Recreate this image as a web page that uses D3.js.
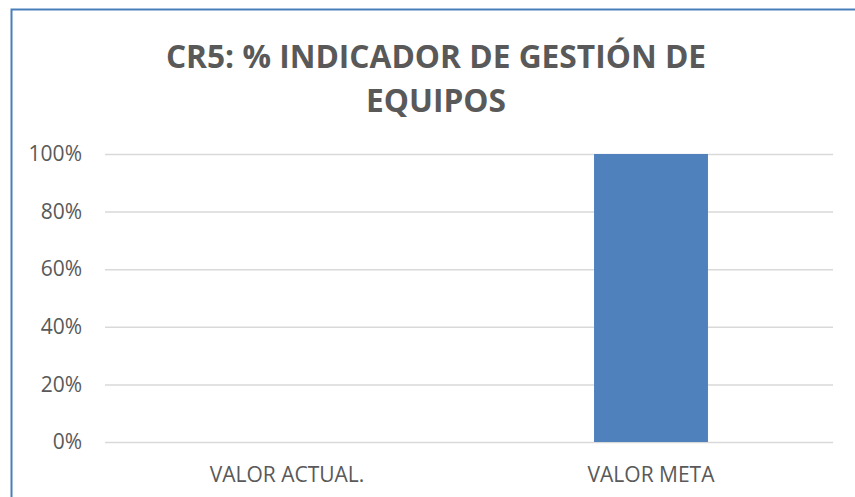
<!DOCTYPE html>
<html>
<head>
<meta charset="utf-8">
<script src="https://cdn.jsdelivr.net/npm/d3@7"></script>
<style>
  html, body { margin: 0; padding: 0; background: #fff; }
  svg { display: block; }
</style>
</head>
<body>
<svg id="chart" width="855" height="497"></svg>
<script>
// Chart data
const categories = ["VALOR ACTUAL.", "VALOR META"];
const values = [0, 1];
const yTicks = [0, 0.2, 0.4, 0.6, 0.8, 1];
const titleLines = ["CR5: % INDICADOR DE GESTIÓN DE", "EQUIPOS"];

const width = 855, height = 497;
const svg = d3.select("#chart");
const font = "'Open Sans', 'Noto Sans', sans-serif";
const textColor = "#595959";

// Chart area frame (extends past the right and bottom edges)
svg.append("rect")
  .attr("x", 11.5).attr("y", 9.5)
  .attr("width", 900).attr("height", 600)
  .attr("fill", "#fff")
  .attr("stroke", "#4a7ebb")
  .attr("stroke-width", 2);

const plot = { left: 105, right: 833, top: 154, bottom: 442 };

const x = d3.scaleBand()
  .domain(categories)
  .range([plot.left, plot.right])
  .paddingInner(0.687)
  .paddingOuter(0.3435);

const y = d3.scaleLinear()
  .domain([0, 1])
  .range([plot.bottom, plot.top]);

// Gridlines and y labels
const yAxis = d3.axisLeft(y)
  .tickValues(yTicks)
  .tickFormat(d3.format(".0%"))
  .tickSize(-(plot.right - plot.left))
  .tickPadding(23);

const gy = svg.append("g")
  .attr("transform", `translate(${plot.left},0)`)
  .call(yAxis);
gy.select(".domain").remove();
gy.selectAll(".tick line")
  .attr("stroke", "#d9d9d9")
  .attr("stroke-width", 1.5);
gy.selectAll(".tick text")
  .attr("fill", textColor)
  .style("font-family", font)
  .style("font-size", "21px");

// Bars
svg.append("g").selectAll("rect")
  .data(categories.map((c, i) => ({ c, v: values[i] })))
  .join("rect")
  .attr("x", d => x(d.c))
  .attr("width", x.bandwidth())
  .attr("y", d => y(d.v))
  .attr("height", d => y(0) - y(d.v))
  .attr("fill", "#4f81bd");

// Category axis labels
const xAxis = d3.axisBottom(x).tickSize(0).tickPadding(25);
const gx = svg.append("g")
  .attr("transform", `translate(0,${plot.bottom})`)
  .call(xAxis);
gx.select(".domain").remove();
gx.selectAll(".tick text")
  .attr("fill", textColor)
  .style("font-family", font)
  .style("font-size", "21px");

// Title
svg.append("text")
  .attr("x", 436)
  .attr("text-anchor", "middle")
  .attr("fill", textColor)
  .style("font-family", font)
  .style("font-weight", "bold")
  .style("font-size", "31.7px")
  .selectAll("tspan")
  .data(titleLines)
  .join("tspan")
  .attr("x", 436)
  .attr("y", (d, i) => 68 + i * 44)
  .text(d => d);
</script>
</body>
</html>
